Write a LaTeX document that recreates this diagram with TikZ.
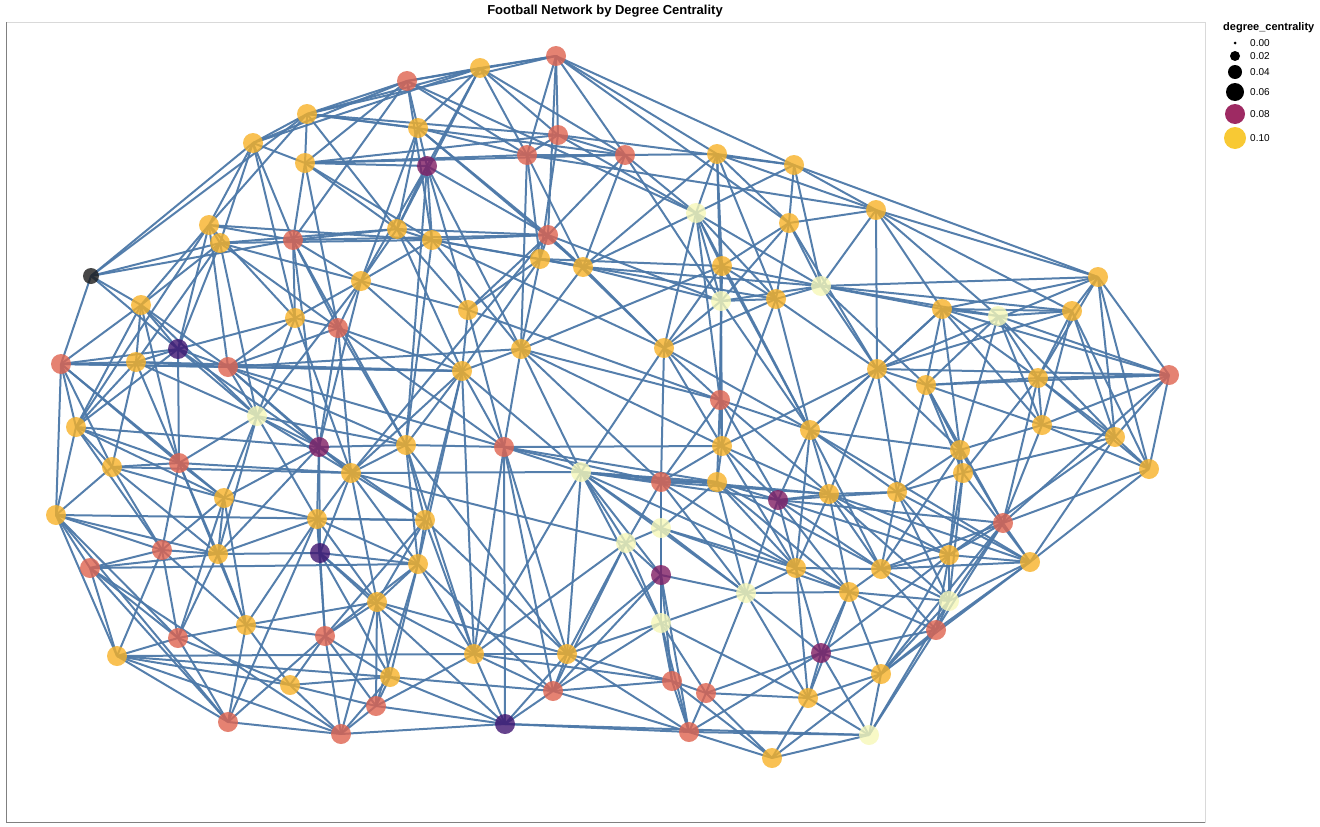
\documentclass[tikz,border=0pt]{standalone}
\usepackage{fontspec}
\setmainfont{Liberation Sans}
\pgfdeclarelayer{edges}
\pgfsetlayers{edges,main}
\definecolor{cR}{HTML}{DF634F}
\definecolor{cO}{HTML}{F7B228}
\definecolor{cP}{HTML}{F6F7B8}
\definecolor{cV}{HTML}{3F1470}
\definecolor{cM}{HTML}{7F1D63}
\definecolor{cK}{HTML}{1A1A1A}
\definecolor{linkblue}{HTML}{4C78A8}
\definecolor{legM}{HTML}{9E2A63}
\definecolor{legY}{HTML}{F8C934}
\tikzset{
    team/.style={circle, minimum size=20pt, inner sep=0pt, fill opacity=0.8, draw=none},
    link/.style={draw=linkblue, line width=2pt, opacity=0.95},
    legdot/.style={circle, inner sep=0pt, draw=none},
    leglabel/.style={anchor=west, inner sep=0pt, font=\fontsize{10}{12}\selectfont}
}
\begin{document}
\begin{tikzpicture}[x=1pt, y=-1pt]
    \useasboundingbox (0,0) rectangle (1320,827);
    \draw[gray!30, line width=1pt] (6,22) rectangle (1205,822);
    \draw[gray, line width=1pt] (6,22) -- (6,822) -- (1205,822);
    \node[font=\fontsize{13}{15}\selectfont\bfseries] (title) at (605,11) {Football Network by Degree Centrality};

    \foreach \i/\x/\y/\c in {
        1/556/56/cR, 2/480/68/cO, 3/407/81/cR, 4/307/114/cO, 5/418/128/cO,
        6/558/135/cR, 7/253/143/cO, 8/305/163/cO, 9/427/166/cM, 10/527/155/cR,
        11/625/155/cR, 12/717/154/cO, 13/794/165/cO, 14/696/213/cP, 15/789/223/cO,
        16/876/210/cO, 17/209/225/cO, 18/220/243/cO, 19/293/240/cR, 20/397/229/cO,
        21/432/240/cO, 22/548/235/cR, 23/540/259/cO, 24/583/267/cO, 25/722/266/cO,
        26/821/286/cP, 27/721/301/cP, 28/776/299/cO, 30/141/305/cO,
        31/361/281/cO, 32/295/318/cO, 33/338/328/cR, 34/468/310/cO, 35/178/349/cV,
        36/61/364/cR, 37/136/362/cO, 38/228/367/cR, 39/521/349/cO, 40/664/348/cO,
        41/462/371/cO, 42/1098/277/cO, 43/942/309/cO, 44/998/316/cP, 45/1072/311/cO,
        46/877/369/cO, 47/926/385/cO, 48/1038/378/cO, 49/1169/375/cR, 50/720/400/cR,
        51/257/416/cP, 52/76/427/cO, 53/810/430/cO, 54/1042/425/cO, 55/1115/437/cO,
        56/319/447/cM, 57/406/445/cO, 58/504/447/cR, 59/722/446/cO, 60/112/467/cO,
        61/179/463/cR, 62/351/473/cO, 63/581/472/cP, 64/960/450/cO, 65/963/473/cO,
        66/1149/469/cO, 67/661/482/cR, 68/717/482/cO, 69/778/500/cM, 70/829/494/cO,
        71/897/492/cO, 72/224/498/cO, 73/56/515/cO, 74/317/519/cO, 75/425/520/cO,
        76/1003/523/cR, 77/661/528/cP, 78/626/543/cP, 79/162/550/cR, 80/218/554/cO,
        81/320/553/cV, 82/418/564/cO, 83/90/568/cR, 84/661/575/cM, 85/796/568/cO,
        86/881/569/cO, 87/949/555/cO, 88/1030/562/cO, 89/746/593/cP, 90/849/592/cO,
        91/949/601/cP, 92/377/602/cO, 93/246/625/cO, 94/178/638/cR, 95/325/636/cR,
        96/661/623/cP, 97/936/630/cR, 98/117/656/cO, 99/474/654/cO, 100/567/654/cO,
        101/821/653/cM, 102/290/685/cO, 103/390/677/cO, 104/881/674/cO, 105/553/691/cR,
        106/672/681/cR, 107/706/693/cR, 108/808/698/cO, 109/376/706/cR, 110/228/722/cR,
        111/341/734/cR, 112/505/724/cV, 113/689/732/cR, 114/869/735/cP, 115/772/758/cO} {
        \node[team, fill=\c] (t\i) at (\x,\y) {};
    }
    \node[team, fill=cK, minimum size=16pt] (t29) at (91,276) {};

    \begin{pgfonlayer}{edges}
        \foreach \a/\nb in {
            1/{2,3,4,6,10,11,12,13,15,22}, 2/{3,4,5,6,7,9,10,11,20}, 3/{4,5,7,8,10,14,19,21},
            4/{5,6,7,8,11,17,20}, 5/{9,10,20,22,24,31}, 6/{8,10,11,13,14,23},
            7/{8,17,18,19,32}, 8/{9,10,11,19,20,21,33}, 9/{20,21,22,31,34,39,57},
            10/{11,16,23,24,39}, 11/{12,14,22,24,27}, 12/{13,14,15,16,24,25,27,28},
            13/{14,15,16,26,42}, 14/{24,25,26,27,28,40,50,53}, 15/{16,25,26,27,28,46},
            16/{26,42,43,44,45,46}, 17/{18,19,21,30,32,35,38,52}, 18/{20,21,30,31,33,35,37,51},
            19/{20,22,31,32,33,56,57}, 20/{21,22,31,34,41}, 21/{22,23,24,31,39,40,57},
            22/{23,24,27,34,40,62}, 23/{24,25,28,34,39,41}, 24/{26,27,39,40},
            25/{26,27,28,39,40,50,53}, 26/{27,28,42,43,44,45,46,47}, 27/{28,40,50,53,59},
            28/{40,46,53,59}, 29/{4,7,18,19,30,35,36}, 30/{35,36,37,38,51,52,61},
            31/{32,33,34,41,51,56}, 32/{33,35,38,51,62}, 33/{38,41,56,57,58,62},
            34/{41,50,58}, 35/{36,37,38,51,52,56,61}, 36/{37,38,41,52,60,61,72,73},
            37/{38,41,51,52,60,61}, 38/{39,41,51,56,57,58,62}, 39/{41,50,58,59,63,67},
            40/{50,53,59,63,67}, 41/{57,58,62,63,75,82,99}, 42/{43,45,46,48,49,55,66},
            43/{44,45,46,47,48,49,53,54,65}, 44/{45,47,48,49,54,55,64}, 45/{46,48,54,55,66},
            46/{47,49,53,59,64,70,71}, 47/{48,49,54,64,65,71,76}, 48/{49,54,55,65,66,76},
            49/{54,55,66,76}, 50/{53,59,67,68,69,70}, 51/{56,57,61,62,72,74,80},
            52/{56,60,61,72,73,79}, 53/{64,69,70,71,85,86,88}, 54/{55,64,66,76},
            55/{65,66,87,88}, 56/{57,62,72,74,75,80,81}, 57/{58,62,75,82,99,100},
            58/{59,63,67,68,99,100,105,112}, 59/{67,68,69,70,85}, 60/{61,62,72,73,79,80},
            61/{62,72,79,80,93}, 62/{63,74,75,78,81,82,92}, 63/{67,68,69,70,77,78,84,85,89,96,99,100},
            64/{65,71,76,86,87}, 65/{71,87,88,91}, 66/{76,88},
            67/{68,70,77,78,84,85,89,96}, 68/{69,77,85,86,89,90}, 69/{70,71,76,85,86,87,89,90},
            70/{71,85,86,87,88,90,91}, 71/{86,87,88,91}, 72/{74,79,80,93,94},
            73/{75,79,80,83,94,98,110}, 74/{75,80,81,82,92,93,95,110}, 75/{82,92,95,99,100},
            76/{86,87,88,91,97,104}, 77/{78,84,85,89,90,96}, 78/{84,96,99,100,105},
            79/{80,83,93,94,98}, 80/{81,83,93,94}, 81/{82,92,95,103,112},
            82/{92,95,99,103,105,109}, 83/{82,94,98,110,111}, 84/{89,96,100,105,106,113},
            85/{86,89,90,101,108}, 86/{87,88,90,91,97}, 87/{88,91,97,101,104},
            88/{91,97,104}, 89/{90,96,101,107,108}, 90/{91,97,101,104,108},
            91/{97,104,114}, 92/{95,99,100,103,109,111}, 93/{92,94,95,102,110},
            94/{98,102,110}, 95/{102,103,109,110,111}, 96/{100,105,106,107,108,113},
            97/{101,104,114}, 98/{99,102,103,110,111}, 99/{100,105,106,109,112},
            100/{105,106,112,113}, 101/{104,107,108,113,114}, 102/{103,109,111},
            103/{105,109,111,112}, 104/{108,114,115}, 105/{106,112,113},
            106/{107,113,115}, 107/{108,113,115}, 108/{114,115},
            109/{111,112}, 110/{111}, 111/{112}, 112/{113,114},
            113/{114,115}, 114/{115}} {
            \foreach \b in \nb {
                \draw[link] (t\a.center) -- (t\b.center);
            }
        }
    \end{pgfonlayer}

    % legend
    \node[anchor=west, inner sep=0pt, font=\fontsize{11}{13}\selectfont\bfseries] (legtitle) at (1223,28) {degree\_centrality};
    \foreach \k/\v/\y/\d/\c in {
        0/0.00/43/3/black, 1/0.02/56/10/black, 2/0.04/72/14/black,
        3/0.06/92/18/black, 4/0.08/114/20/legM, 5/0.10/138/22/legY} {
        \node[legdot, fill=\c, minimum size=\d pt] (leg\k) at (1235,\y) {};
        \node[leglabel] (lab\k) at (1250,\y) {\v};
    }
\end{tikzpicture}
\end{document}
